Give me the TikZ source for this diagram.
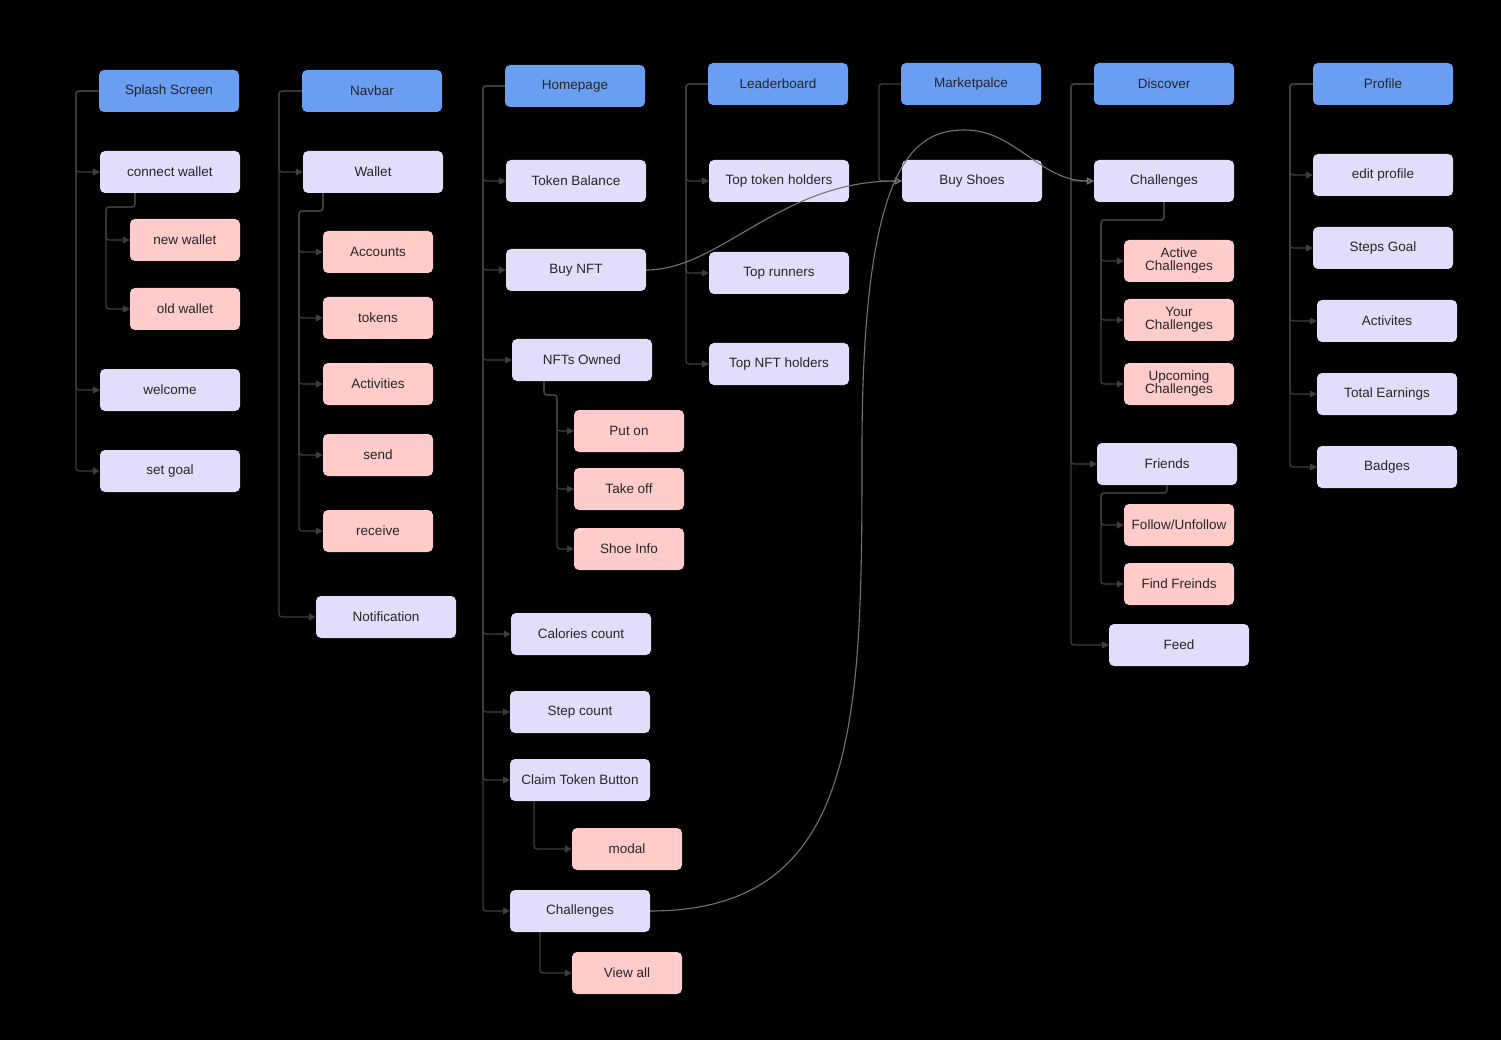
\documentclass[tikz,border=0pt]{standalone}
\usepackage{fontspec}
\setmainfont{Liberation Sans}
\usetikzlibrary{arrows.meta,calc}
\definecolor{hdr}{HTML}{6A9EF2}
\definecolor{lav}{HTML}{E1DEFC}
\definecolor{pnk}{HTML}{FFCCCA}
\definecolor{ln}{HTML}{3E3E3E}
\begin{document}
\begin{tikzpicture}[x=1pt,y=-1pt,
 box/.style={rounded corners=5pt,minimum height=42pt,inner sep=2pt,align=center,font=\fontsize{13.5}{13}\selectfont,text=black!85,draw=none},
 hd/.style={box,fill=hdr,minimum width=140pt},
 it/.style={box,fill=lav,minimum width=140pt},
 sb/.style={box,fill=pnk,minimum width=110pt},
 conn/.style={draw=ln,line width=1.3pt,rounded corners=3pt,-{Triangle[length=7pt,width=7pt]}},
 crv/.style={draw=black!55,line width=1.1pt,-{Triangle[length=7pt,width=7pt,fill=ln]}}]
\fill[black] (0,0) rectangle (1501,1040);
% column 1
\node[hd] (ss) at (169,91) {Splash Screen};
\node[it] (cw) at (170,172) {connect wallet};
\node[sb] (nw) at (185,240) {new wallet};
\node[sb] (ow) at (185,309) {old wallet};
\node[it] (wel) at (170,390) {welcome};
\node[it] (sg) at (170,471) {set goal};
\foreach \c in {cw,wel,sg} \draw[conn] (ss.west) -- (76,91) |- (\c.west);
\coordinate (j1) at (106,207);
\foreach \c in {nw,ow} \draw[conn] ([xshift=-35pt]cw.south) -- (135,207) -- (j1) |- (\c.west);
% column 2
\node[hd] (nav) at (372,91) {Navbar};
\node[it] (wal) at (373,172) {Wallet};
\node[sb] (acc) at (378,252) {Accounts};
\node[sb] (tok) at (378,318) {tokens};
\node[sb] (act) at (378,384) {Activities};
\node[sb] (snd) at (378,455) {send};
\node[sb] (rcv) at (378,531) {receive};
\node[it] (ntf) at (386,617) {Notification};
\foreach \c in {wal,ntf} \draw[conn] (nav.west) -- (279,91) |- (\c.west);
\foreach \c in {acc,tok,act,snd,rcv} \draw[conn] ([xshift=-50pt]wal.south) -- (323,211) -- (299,211) |- (\c.west);
% column 3
\node[hd] (hp) at (575,86) {Homepage};
\node[it] (tb) at (576,181) {Token Balance};
\node[it] (bn) at (576,270) {Buy NFT};
\node[it] (no) at (582,360) {NFTs Owned};
\node[sb] (po) at (629,431) {Put on};
\node[sb] (to) at (629,489) {Take off};
\node[sb] (si) at (629,549) {Shoe Info};
\node[it] (cc) at (581,634) {Calories count};
\node[it] (sc) at (580,712) {Step count};
\node[it] (ct) at (580,780) {Claim Token Button};
\node[sb] (md) at (627,849) {modal};
\node[it] (ch) at (580,911) {Challenges};
\node[sb] (va) at (627,973) {View all};
\foreach \c in {tb,bn,no,cc,sc,ct,ch} \draw[conn] (hp.west) -- (483,86) |- (\c.west);
\foreach \c in {po,to,si} \draw[conn] (544,381) -- (544,395) -- (557,395) |- (\c.west);
\draw[conn] (534,801) |- (md.west);
\draw[conn] (540,932) |- (va.west);
% column 4
\node[hd] (lb) at (778,84) {Leaderboard};
\node[it] (tth) at (779,181) {Top token holders};
\node[it] (tr) at (779,273) {Top runners};
\node[it] (tnh) at (779,364) {Top NFT holders};
\foreach \c in {tth,tr,tnh} \draw[conn] (lb.west) -- (686,84) |- (\c.west);
% column 5
\node[hd] (mk) at (971,84) {Marketpalce};
\node[it] (bs) at (972,181) {Buy Shoes};
\draw[conn] (mk.west) -- (879,84) |- (bs.west);
% column 6
\node[hd] (dc) at (1164,84) {Discover};
\node[it] (dch) at (1164,181) {Challenges};
\node[sb] (ac) at (1179,261) {Active\\Challenges};
\node[sb] (yc) at (1179,320) {Your\\Challenges};
\node[sb] (uc) at (1179,384) {Upcoming\\Challenges};
\node[it] (fr) at (1167,464) {Friends};
\node[sb] (fu) at (1179,525) {Follow/Unfollow};
\node[sb] (ff) at (1179,584) {Find Freinds};
\node[it] (fd) at (1179,645) {Feed};
\foreach \c in {dch,fr,fd} \draw[conn] (dc.west) -- (1071,84) |- (\c.west);
\foreach \c in {ac,yc,uc} \draw[conn] (dch.south) -- (1164,220) -- (1101,220) |- (\c.west);
\foreach \c in {fu,ff} \draw[conn] (fr.south) -- (1167,493) -- (1101,493) |- (\c.west);
% column 7
\node[hd] (pf) at (1383,84) {Profile};
\node[it] (ep) at (1383,175) {edit profile};
\node[it] (sgl) at (1383,248) {Steps Goal};
\node[it] (av) at (1387,321) {Activites};
\node[it] (te) at (1387,394) {Total Earnings};
\node[it] (bd) at (1387,467) {Badges};
\foreach \c in {ep,sgl,av,te,bd} \draw[conn] (pf.west) -- (1290,84) |- (\c.west);
% curves
\draw[crv] (bn.east) .. controls (720,270) and (780,181) .. (bs.west);
\draw[crv] (ch.east) .. controls (860,911) and (862,720) .. (862,450)
  .. controls (862,160) and (915,130) .. (965,130)
  .. controls (1015,130) and (1040,181) .. (dch.west);
\end{tikzpicture}
\end{document}
